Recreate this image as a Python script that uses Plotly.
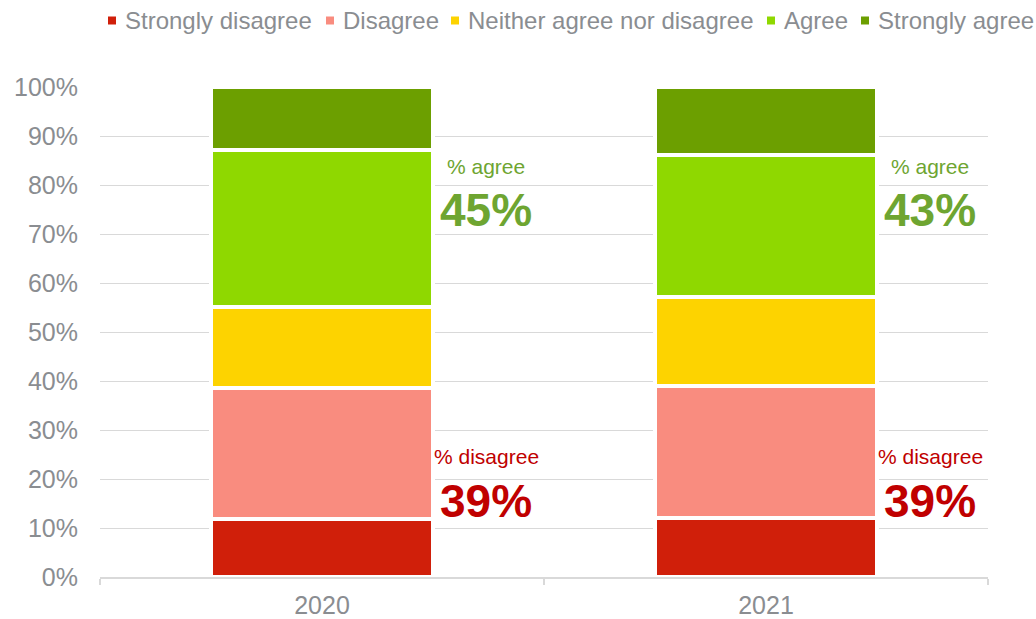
import plotly.graph_objects as go

# Survey responses by year (percent of respondents)
years = ["2020", "2021"]
strongly_disagree = [11.9, 12.0]
disagree = [26.7, 27.0]
neither = [16.5, 18.1]
agree = [32.1, 29.0]
strongly_agree = [12.8, 13.9]

series_names = ["Strongly disagree", "Disagree", "Neither agree nor disagree",
                "Agree", "Strongly agree"]
series_colors = ["#d01f0a", "#f98c7f", "#fdd300", "#8fd800", "#6c9f00"]
tick_values = [0, 10, 20, 30, 40, 50, 60, 70, 80, 90, 100]
tick_labels = [f"{v}%" for v in tick_values]

FONT = "Liberation Sans, Arial, sans-serif"
GREY = "#8a8d91"
AGREE_COLOR = "#6ea531"
DISAGREE_COLOR = "#c00000"

W, H = 1036, 619
M_L, M_R, M_T, M_B = 100, 48, 87, 42
PLOT_W = W - M_L - M_R
PLOT_H = H - M_T - M_B


def px_to_paper_x(px):
    return (px - M_L) / PLOT_W


def px_to_paper_y(py):
    return (H - M_B - py) / PLOT_H


series = [strongly_disagree, disagree, neither, agree, strongly_agree]

fig = go.Figure()
for name, vals, color in zip(series_names, series, series_colors):
    fig.add_trace(go.Bar(
        x=years, y=vals, name=name, width=0.5,
        marker=dict(color=color, line=dict(color="white", width=4)),
        showlegend=False, hoverinfo="name+y",
    ))

# Key along the top: small colour square followed by the series name
legend_text_left = [124, 342, 467, 783, 877]
legend_row_y = 20.5
swatch = 8
shapes = []
annotations = []
for name, color, tx in zip(series_names, series_colors, legend_text_left):
    shapes.append(dict(
        type="rect", xref="paper", yref="paper", layer="above",
        x0=px_to_paper_x(tx - 16), x1=px_to_paper_x(tx - 16 + swatch),
        y0=px_to_paper_y(legend_row_y + swatch / 2), y1=px_to_paper_y(legend_row_y - swatch / 2),
        fillcolor=color, line=dict(width=0),
    ))
    annotations.append(dict(
        x=px_to_paper_x(tx), y=px_to_paper_y(legend_row_y), xref="paper", yref="paper",
        xanchor="left", yanchor="middle", text=name, showarrow=False, borderpad=0,
        font=dict(family=FONT, size=24, color=GREY),
    ))

# Summary labels: share agreeing and disagreeing per year
for i, year in enumerate(years):
    pct_agree = round(agree[i] + strongly_agree[i])
    pct_disagree = round(strongly_disagree[i] + disagree[i])
    xpos = i + 0.37
    annotations += [
        dict(x=xpos, y=83.7, xref="x", yref="y", text="% agree", showarrow=False,
             font=dict(family=FONT, size=21, color=AGREE_COLOR)),
        dict(x=xpos, y=75.0, xref="x", yref="y", text=f"<b>{pct_agree}%</b>", showarrow=False,
             font=dict(family=FONT, size=46, color=AGREE_COLOR)),
        dict(x=xpos, y=24.6, xref="x", yref="y", text="% disagree", showarrow=False,
             font=dict(family=FONT, size=21, color=DISAGREE_COLOR)),
        dict(x=xpos, y=15.6, xref="x", yref="y", text=f"<b>{pct_disagree}%</b>", showarrow=False,
             font=dict(family=FONT, size=46, color=DISAGREE_COLOR)),
    ]

fig.update_layout(
    width=W, height=H,
    barmode="stack",
    showlegend=False,
    plot_bgcolor="white", paper_bgcolor="white",
    margin=dict(l=M_L, r=M_R, t=M_T, b=M_B, pad=0, autoexpand=False),
    font=dict(family=FONT, color=GREY),
    annotations=annotations,
    shapes=shapes,
)
fig.update_xaxes(
    type="category", range=[-0.5, 1.5], automargin=False,
    showline=True, linecolor="#d9d9d9", linewidth=1.5,
    ticks="outside", tickson="boundaries", ticklen=6, tickcolor="#d9d9d9", tickwidth=1.5,
    tickfont=dict(family=FONT, size=25, color=GREY),
    showgrid=False, ticklabelstandoff=5,
)
fig.update_yaxes(
    range=[0, 100], tickmode="array", tickvals=tick_values, ticktext=tick_labels,
    automargin=False,
    showgrid=True, gridcolor="#d9d9d9", gridwidth=1.3,
    zeroline=False, showline=False, ticks="",
    tickfont=dict(family=FONT, size=25, color=GREY),
    ticklabelstandoff=21,
)

fig.write_html("out.html")
